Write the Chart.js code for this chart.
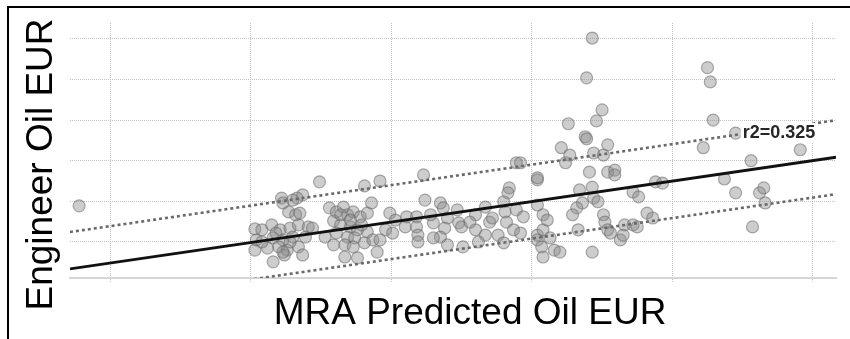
<!DOCTYPE html>
<html>
<head>
<meta charset="utf-8">
<script src="https://cdn.jsdelivr.net/npm/chart.js@4.4.1/dist/chart.umd.min.js"></script>
<style>
  html, body { margin: 0; padding: 0; background: #fff; overflow: hidden; }
  #wrap { position: relative; width: 850px; height: 339px; }
</style>
</head>
<body>
<div id="wrap"><canvas id="c" width="850" height="339"></canvas></div>
<script>
// Well-by-well EUR: MRA prediction (x) vs engineer estimate (y)
const mraPredicted = [
  78,
  222, 237, 233, 223, 227, 232, 230,
  203, 208, 215, 221, 228, 234, 241,
  216, 223, 230, 239,
  203, 212, 220, 226, 234,
  216, 224, 237,
  244, 249, 223, 204, 218, 228, 208, 235,
  281, 292, 286, 256, 259, 253, 261, 266, 269, 273, 278, 283, 264, 271, 276, 283,
  269, 274, 267, 273, 281, 287, 290, 267, 276, 299, 303, 296, 301, 292, 261,
  264, 271, 279, 259,
  323, 389, 392, 404, 404, 384, 383, 324, 335, 337, 347, 367, 380, 381, 389, 394,
  404, 408, 311, 318, 310, 318, 319, 319, 330, 340, 338, 335, 330, 340, 348, 350,
  360, 360, 367, 362, 351, 370, 372, 376, 380, 382, 387, 392, 404, 404, 408, 411,
  407, 408, 356, 328,
  443, 439, 450, 446, 426, 438, 439, 454, 421, 427, 424, 444, 451, 441, 454, 459,
  459, 434, 443, 444, 447, 436, 432, 429, 451, 452, 454, 456, 463, 465, 466, 472,
  475, 472, 476, 482, 486, 488, 493, 433, 443, 413, 416, 420,
  525, 527, 529, 545, 522, 591, 556, 537, 545, 562, 565, 566, 557
];
const engineerEur = [
  189,
  208, 216, 208, 196, 174, 167, 203,
  132, 130, 142, 130, 134, 142, 137,
  110, 105, 112, 112,
  80, 85, 88, 80, 88,
  51, 68, 68,
  134, 248, 75, 105, 122, 100, 100, 171,
  238, 250, 196, 184, 152, 112, 174, 186, 167, 174, 162, 171, 142, 137, 130, 125,
  112, 110, 93, 88, 98, 105, 75, 63, 61, 171, 154, 130, 122, 105, 122,
  167, 154, 142, 93,
  265, 295, 295, 253, 258, 233, 221, 203, 196, 184, 179, 186, 199, 174, 179, 162,
  191, 167, 162, 162, 137, 137, 117, 100, 147, 159, 134, 112, 110, 93, 147, 137,
  167, 130, 117, 100, 88, 149, 159, 117, 98, 149, 130, 122, 117, 105, 130, 154,
  88, 63, 149, 167,
  602, 504, 425, 398, 391, 359, 354, 339, 332, 314, 295, 319, 314, 272, 272, 277,
  265, 228, 235, 208, 199, 196, 184, 167, 167, 149, 130, 122, 105, 117, 142, 142,
  137, 223, 211, 171, 159, 248, 245, 130, 75, 110, 80, 75,
  529, 494, 400, 368, 332, 327, 300, 255, 221, 221, 233, 196, 137
];

// Gridline positions and axis extents
const xGridValues = [100, 200, 300, 400, 500, 600];
const yGridValues = [100, 200, 300, 400, 500, 600];
const xRange = [71.5, 616.4];
const yRange = [11.3, 639];

// Least-squares fit and its prediction band
const fitX = [71.5, 616.4];
const fitY = [33.5, 308.6];
const bandHalfWidth = 91;
const rSquaredText = 'r2=0.325';
const rSquaredAt = [550, 356];

const xTitle = 'MRA Predicted Oil EUR';
const yTitle = 'Engineer Oil EUR';

const FONT = '"Liberation Sans", Arial, Helvetica, sans-serif';
const gridColor = '#c4c4c4';

const points = mraPredicted.map((x, i) => ({ x, y: engineerEur[i] }));
const fitLine = fitX.map((x, i) => ({ x, y: fitY[i] }));
const upperBand = fitX.map((x, i) => ({ x, y: fitY[i] + bandHalfWidth }));
const lowerBand = fitX.map((x, i) => ({ x, y: fitY[i] - bandHalfWidth }));

const decorations = {
  id: 'decorations',
  beforeDraw(chart) {
    const ctx = chart.ctx;
    ctx.save();
    ctx.fillStyle = '#fff';
    ctx.fillRect(0, 0, chart.width, chart.height);
    ctx.restore();
  },
  afterDatasetsDraw(chart) {
    const ctx = chart.ctx;
    const px = chart.scales.x.getPixelForValue(rSquaredAt[0]);
    const py = chart.scales.y.getPixelForValue(rSquaredAt[1]);
    ctx.save();
    ctx.font = 'bold 18px ' + FONT;
    const w = ctx.measureText(rSquaredText).width;
    ctx.fillStyle = '#fff';
    ctx.fillRect(px - 2, py - 15, w + 4, 19);
    ctx.fillStyle = '#262626';
    ctx.textAlign = 'left';
    ctx.textBaseline = 'alphabetic';
    ctx.fillText(rSquaredText, px, py);
    ctx.restore();
  },
  afterDraw(chart) {
    const ctx = chart.ctx;
    ctx.save();
    ctx.fillStyle = '#000';
    ctx.font = '37px ' + FONT;
    ctx.textAlign = 'center';
    ctx.textBaseline = 'alphabetic';
    ctx.fillText(xTitle, 470, 324);
    ctx.translate(52, 164.5);
    ctx.rotate(-Math.PI / 2);
    ctx.fillText(yTitle, 0, 0);
    ctx.restore();

    ctx.save();
    ctx.strokeStyle = '#000';
    ctx.lineWidth = 2;
    ctx.strokeRect(8, 7, 900, 400);
    ctx.restore();
  }
};

new Chart(document.getElementById('c'), {
  type: 'scatter',
  data: {
    datasets: [
      {
        data: fitLine, showLine: true, order: 0,
        borderColor: '#111', borderWidth: 2.8, pointRadius: 0, fill: false
      },
      {
        data: upperBand, showLine: true, order: 0,
        borderColor: '#6a6a6a', borderWidth: 2.6, borderDash: [3, 3], pointRadius: 0, fill: false
      },
      {
        data: lowerBand, showLine: true, order: 0,
        borderColor: '#6a6a6a', borderWidth: 2.6, borderDash: [3, 3], pointRadius: 0, fill: false
      },
      {
        data: points, order: 1,
        pointRadius: 6, pointHoverRadius: 6,
        backgroundColor: 'rgba(135,135,135,0.42)',
        borderColor: 'rgba(105,105,105,0.55)', borderWidth: 1.2
      }
    ]
  },
  options: {
    responsive: false,
    animation: false,
    devicePixelRatio: 1,
    layout: { padding: { left: 70, top: 23, right: 14, bottom: 57 } },
    plugins: { legend: { display: false }, tooltip: { enabled: false } },
    scales: {
      x: {
        type: 'linear', min: xRange[0], max: xRange[1],
        afterBuildTicks: s => { s.ticks = xGridValues.map(v => ({ value: v })); },
        ticks: { display: false },
        grid: { color: gridColor, lineWidth: 1, drawTicks: true, tickLength: 4,
                tickColor: gridColor, tickBorderDash: [1, 1] },
        border: { display: true, color: '#d6d6d6', width: 2, dash: [1, 1] }
      },
      y: {
        type: 'linear', min: yRange[0], max: yRange[1],
        afterBuildTicks: s => { s.ticks = yGridValues.map(v => ({ value: v })); },
        ticks: { display: false },
        grid: { color: gridColor, lineWidth: 1, drawTicks: false },
        border: { display: false, dash: [1, 1] }
      }
    }
  },
  plugins: [decorations]
});
</script>
</body>
</html>
